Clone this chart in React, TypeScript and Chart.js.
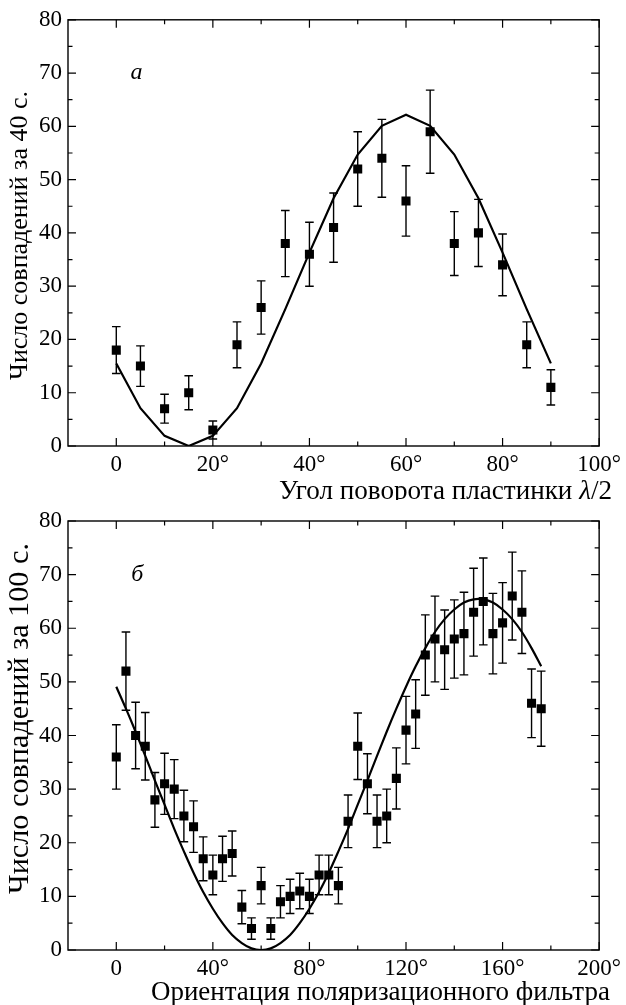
import React, { useEffect, useRef } from 'react';
import { Chart, registerables } from 'chart.js';

Chart.register(...registerables);

// ---------- Panel a (top) ----------
const topAngles = [0, 5, 10, 15, 20, 25, 30, 35, 40, 45, 50, 55, 60, 65, 70, 75, 80, 85, 90];
const topCounts = [18, 15, 7, 10, 3, 19, 26, 38, 36, 41, 52, 54, 46, 59, 38, 40, 34, 19, 11];
const topErrors = [4.4, 3.8, 2.7, 3.2, 1.7, 4.3, 5, 6.2, 6, 6.5, 7, 7.3, 6.6, 7.8, 6, 6.3, 5.8, 4.3, 3.3];
const topFitAngles = [0, 5, 10, 15, 20, 25, 30, 35, 40, 45, 50, 55, 60, 65, 70, 75, 80, 85, 90];
const topFit = [15.5, 7.1, 1.9, 0, 1.9, 7.1, 15.5, 25.7, 36.3, 46.5, 54.7, 60.1, 62.2, 60.1, 54.7, 46.5, 36.3, 25.7, 15.5];
const topXMajor = [0, 20, 40, 60, 80, 100];
const topXMinor = [10, 30, 50, 70, 90];
const topYMajor = [0, 10, 20, 30, 40, 50, 60, 70, 80];
const topYMinor = [5, 15, 25, 35, 45, 55, 65, 75];

// ---------- Panel б (bottom) ----------
const botAngles = [0, 4, 8, 12, 16, 20, 24, 28, 32, 36, 40, 44, 48, 52, 56, 60, 64, 68, 72, 76, 80, 84, 88, 92, 96, 100, 104, 108, 112, 116, 120, 124, 128, 132, 136, 140, 144, 148, 152, 156, 160, 164, 168, 172, 176];
const botCounts = [36, 52, 40, 38, 28, 31, 30, 25, 23, 17, 14, 17, 18, 8, 4, 12, 4, 9, 10, 11, 10, 14, 14, 12, 24, 38, 31, 24, 25, 32, 41, 44, 55, 58, 56, 58, 59, 63, 65, 59, 61, 66, 63, 46, 45];
const botErrors = [6, 7.3, 6.2, 6.3, 5.1, 5.7, 5.5, 4.8, 4.8, 4.1, 3.7, 4.2, 4.2, 3.1, 2, 3.4, 2, 3, 3.2, 3.3, 3.2, 3.7, 3.7, 3.4, 4.9, 6.2, 5.6, 4.9, 5, 5.7, 6.3, 6.4, 7.5, 8, 7.4, 7.3, 7.7, 8.2, 8.1, 7.5, 7.5, 8.2, 7.7, 6.4, 7];
const botFitAngles = [0, 4, 8, 12, 16, 20, 24, 28, 32, 36, 40, 44, 48, 52, 56, 60, 64, 68, 72, 76, 80, 84, 88, 92, 96, 100, 104, 108, 112, 116, 120, 124, 128, 132, 136, 140, 144, 148, 152, 156, 160, 164, 168, 172, 176];
const botFit = [49.1, 45.0, 40.7, 36.2, 31.6, 27.1, 22.6, 18.4, 14.4, 10.8, 7.7, 5.0, 2.8, 1.3, 0.3, 0, 0.3, 1.3, 2.8, 5.0, 7.7, 10.8, 14.4, 18.4, 22.6, 27.1, 31.6, 36.2, 40.7, 45.0, 49.1, 52.9, 56.3, 59.3, 61.7, 63.5, 64.8, 65.4, 65.4, 64.8, 63.5, 61.7, 59.3, 56.3, 52.9];
const botXMajor = [0, 40, 80, 120, 160, 200];
const botXMinor = [20, 60, 100, 140, 180];
const botYMajor = [0, 10, 20, 30, 40, 50, 60, 70, 80];
const botYMinor = [5, 15, 25, 35, 45, 55, 65, 75];

const SERIF = '"Liberation Serif", "DejaVu Serif", serif';

type Seg = { t: string; italic: boolean };

type PanelSpec = {
  height: number;
  padTop: number;
  xAxisHeight: number;
  xMin: number;
  xMax: number;
  angles: number[];
  counts: number[];
  errors: number[];
  fitAngles: number[];
  fit: number[];
  tension: number;
  xMajor: number[];
  xMinor: number[];
  yMajor: number[];
  yMinor: number[];
  panelLabel: string;
  panelLabelX: number;
  panelLabelY: number;
  xTitle: Seg[];
  xTitleLeft: number;
  xTitleRight: number;
  xTitleY: number;
  yTitle: Seg[];
  yTitleTop: number;
  yTitleBottom: number;
  yTitleX: number;
};

const topSpec: PanelSpec = {
  height: 500,
  padTop: 16,
  xAxisHeight: 54,
  xMin: -10,
  xMax: 100,
  angles: topAngles,
  counts: topCounts,
  errors: topErrors,
  fitAngles: topFitAngles,
  fit: topFit,
  tension: 0,
  xMajor: topXMajor,
  xMinor: topXMinor,
  yMajor: topYMajor,
  yMinor: topYMinor,
  panelLabel: 'а',
  panelLabelX: 4.2,
  panelLabelY: 70,
  xTitle: [
    { t: 'Угол поворота пластинки ', italic: false },
    { t: 'λ', italic: true },
    { t: '/2', italic: false },
  ],
  xTitleLeft: 279,
  xTitleRight: 612,
  xTitleY: 492,
  yTitle: [{ t: 'Число совпадений за 40 с.', italic: false }],
  yTitleTop: 91,
  yTitleBottom: 380,
  yTitleX: 20,
};

const botSpec: PanelSpec = {
  height: 505,
  padTop: 21,
  xAxisHeight: 55,
  xMin: -20,
  xMax: 200,
  angles: botAngles,
  counts: botCounts,
  errors: botErrors,
  fitAngles: botFitAngles,
  fit: botFit,
  tension: 0.35,
  xMajor: botXMajor,
  xMinor: botXMinor,
  yMajor: botYMajor,
  yMinor: botYMinor,
  panelLabel: 'б',
  panelLabelX: 8.7,
  panelLabelY: 70,
  xTitle: [{ t: 'Ориентация поляризационного фильтра', italic: false }],
  xTitleLeft: 151,
  xTitleRight: 610,
  xTitleY: 493,
  yTitle: [{ t: 'Число совпадений за 100 с.', italic: false }],
  yTitleTop: 43,
  yTitleBottom: 394,
  yTitleX: 20,
};

function drawFitted(ctx: CanvasRenderingContext2D, segs: Seg[], startX: number, y: number, width: number) {
  const base = 22;
  const font = (it: boolean, size: number) => `${it ? 'italic ' : ''}${size}px ${SERIF}`;
  let total = 0;
  segs.forEach((s) => {
    ctx.font = font(s.italic, base);
    total += ctx.measureText(s.t).width;
  });
  const size = (base * width) / total;
  let cx = startX;
  ctx.textAlign = 'left';
  ctx.textBaseline = 'middle';
  segs.forEach((s) => {
    ctx.font = font(s.italic, size);
    ctx.fillText(s.t, cx, y);
    cx += ctx.measureText(s.t).width;
  });
}

const errorBarPlugin = {
  id: 'errorBars',
  afterDatasetsDraw(chart: any) {
    const { ctx } = chart;
    const yScale = chart.scales.y;
    chart.data.datasets.forEach((ds: any, i: number) => {
      if (!ds.errors) return;
      const meta = chart.getDatasetMeta(i);
      ctx.save();
      ctx.strokeStyle = '#000';
      ctx.lineWidth = 1.4;
      meta.data.forEach((el: any, j: number) => {
        const v = ds.data[j].y;
        const e = ds.errors[j];
        const px = el.x;
        const yTop = yScale.getPixelForValue(v + e);
        const yBot = yScale.getPixelForValue(v - e);
        ctx.beginPath();
        ctx.moveTo(px, yTop);
        ctx.lineTo(px, yBot);
        ctx.moveTo(px - 4.3, yTop);
        ctx.lineTo(px + 4.3, yTop);
        ctx.moveTo(px - 4.3, yBot);
        ctx.lineTo(px + 4.3, yBot);
        ctx.stroke();
      });
      ctx.restore();
    });
  },
};

const decorPlugin = {
  id: 'decor',
  afterDraw(chart: any, _args: any, opts: any) {
    const { ctx, chartArea: a } = chart;
    const x = chart.scales.x;
    const y = chart.scales.y;
    const spec: PanelSpec = opts.spec;
    ctx.save();
    ctx.strokeStyle = '#000';
    ctx.lineWidth = 1.4;
    ctx.strokeRect(a.left, a.top, a.right - a.left, a.bottom - a.top);
    const major = 8;
    const minor = 4.5;
    ctx.lineWidth = 1.2;
    ctx.beginPath();
    const xt = (vals: number[], len: number) => {
      vals.forEach((v) => {
        const px = x.getPixelForValue(v);
        ctx.moveTo(px, a.bottom);
        ctx.lineTo(px, a.bottom - len);
        ctx.moveTo(px, a.top);
        ctx.lineTo(px, a.top + len);
      });
    };
    const yt = (vals: number[], len: number) => {
      vals.forEach((v) => {
        const py = y.getPixelForValue(v);
        ctx.moveTo(a.left, py);
        ctx.lineTo(a.left + len, py);
        ctx.moveTo(a.right, py);
        ctx.lineTo(a.right - len, py);
      });
    };
    xt(spec.xMajor, major);
    xt(spec.xMinor, minor);
    yt(spec.yMajor, major);
    yt(spec.yMinor, minor);
    ctx.stroke();

    // panel label
    ctx.fillStyle = '#000';
    ctx.font = `italic 24px ${SERIF}`;
    ctx.textAlign = 'center';
    ctx.textBaseline = 'middle';
    ctx.fillText(spec.panelLabel, x.getPixelForValue(spec.panelLabelX), y.getPixelForValue(spec.panelLabelY));

    // x axis title
    drawFitted(ctx, spec.xTitle, spec.xTitleLeft, spec.xTitleY, spec.xTitleRight - spec.xTitleLeft);

    // y axis title (rotated)
    ctx.save();
    ctx.translate(spec.yTitleX, spec.yTitleBottom);
    ctx.rotate(-Math.PI / 2);
    drawFitted(ctx, spec.yTitle, 0, 0, spec.yTitleBottom - spec.yTitleTop);
    ctx.restore();

    ctx.restore();
  },
};

function Panel({ spec }: { spec: PanelSpec }) {
  const ref = useRef<HTMLCanvasElement | null>(null);
  useEffect(() => {
    if (!ref.current) return;
    const chart = new Chart(ref.current, {
      type: 'scatter',
      data: {
        datasets: [
          {
            type: 'line',
            data: spec.fitAngles.map((a, i) => ({ x: a, y: spec.fit[i] })),
            borderColor: '#000',
            borderWidth: 2.2,
            pointRadius: 0,
            tension: spec.tension,
            fill: false,
          } as any,
          {
            type: 'scatter',
            data: spec.angles.map((a, i) => ({ x: a, y: spec.counts[i] })),
            errors: spec.errors,
            pointStyle: 'rect',
            pointRadius: 6.4,
            backgroundColor: '#000',
            borderColor: '#000',
            borderWidth: 0,
            showLine: false,
          } as any,
        ],
      },
      options: {
        animation: false,
        responsive: true,
        maintainAspectRatio: false,
        layout: { padding: { top: spec.padTop, right: 22, left: 0, bottom: 0 } },
        plugins: {
          legend: { display: false },
          tooltip: { enabled: false },
          decor: { spec },
        } as any,
        scales: {
          x: {
            type: 'linear',
            min: spec.xMin,
            max: spec.xMax,
            grid: { display: false, drawTicks: false },
            border: { display: false },
            afterBuildTicks: (scale: any) => {
              scale.ticks = spec.xMajor.map((v) => ({ value: v }));
            },
            afterFit: (scale: any) => {
              scale.height = spec.xAxisHeight;
            },
            ticks: {
              color: '#000',
              font: { family: SERIF, size: 23 },
              padding: 5,
              maxRotation: 0,
              autoSkip: false,
              callback: (v: any) => (Number(v) === 0 ? '0' : `${v}°`),
            },
          },
          y: {
            type: 'linear',
            min: 0,
            max: 80,
            grid: { display: false, drawTicks: false },
            border: { display: false },
            afterBuildTicks: (scale: any) => {
              scale.ticks = spec.yMajor.map((v) => ({ value: v }));
            },
            afterFit: (scale: any) => {
              scale.width = 68;
            },
            ticks: {
              color: '#000',
              font: { family: SERIF, size: 23 },
              padding: 6,
              autoSkip: false,
              callback: (v: any) => `${v}`,
            },
          },
        },
      },
      plugins: [errorBarPlugin, decorPlugin],
    } as any);
    return () => chart.destroy();
  }, [spec]);
  return (
    <div style={{ position: 'relative', width: 626, height: spec.height }}>
      <canvas ref={ref} />
    </div>
  );
}

export default function App() {
  return (
    <div style={{ position: 'absolute', left: 0, top: 0, width: 626, height: 1005, background: '#fff' }}>
      <Panel spec={topSpec} />
      <Panel spec={botSpec} />
    </div>
  );
}
